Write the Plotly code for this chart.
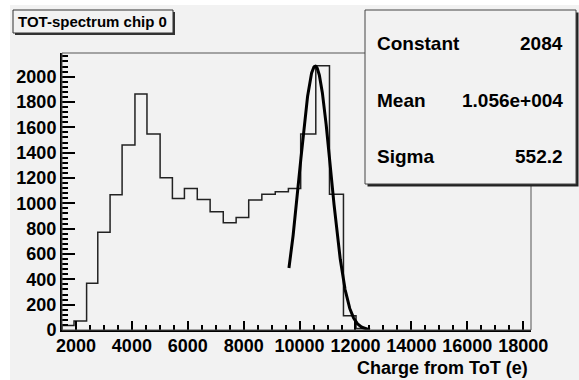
import numpy as np
import plotly.graph_objects as go

# TOT spectrum of chip 0: bin edges in charge units (e) and counts per bin
bin_edges = [1500, 1930, 2380, 2780, 3220, 3650, 4110, 4540, 5010, 5450, 5880,
             6340, 6800, 7270, 7730, 8180, 8650, 9130, 9600, 10040, 10580,
             11070, 11570, 12020, 12480]
counts = [35, 71, 369, 771, 1068, 1460, 1863, 1547, 1202, 1039, 1118, 1031,
          934, 847, 889, 1026, 1071, 1092, 1118, 1547, 2086, 1071, 113, 12]

# Gaussian fit parameters
fit_names = ["Constant", "Mean", "Sigma"]
fit_labels = ["2084", "1.056e+004", "552.2"]
fit_constant = 2084.0
fit_mean = 1.056e4
fit_sigma = 552.2
fit_range = [9620, 12520]

title_text = "TOT-spectrum chip 0"
x_title = "Charge from ToT (e)"

W, H = 579, 380
L, R, T, B = 62, 48, 53, 50
PW, PH = W - L - R, H - T - B
BG = "#f2f2f2"
FONT = "Liberation Sans, Arial, sans-serif"


def px(x):
    return (x - L) / PW


def py(y):
    return (H - B - y) / PH


# step outline of the histogram, closed down to zero at both ends
hx = [bin_edges[0]] + list(bin_edges) + [bin_edges[-1]]
hy = [0] + list(counts) + [counts[-1], 0]

fx = np.linspace(fit_range[0], fit_range[1], 400)
fy = fit_constant * np.exp(-0.5 * ((fx - fit_mean) / fit_sigma) ** 2)

fig = go.Figure()
fig.add_trace(go.Scatter(x=hx, y=hy, mode="lines", line=dict(shape="hv", color="#222", width=1.5),
                         hoverinfo="skip", showlegend=False))
fig.add_trace(go.Scatter(x=fx, y=fy, mode="lines", line=dict(color="black", width=3),
                         hoverinfo="skip", showlegend=False))

shapes = []
# canvas background
shapes.append(dict(type="rect", xref="paper", yref="paper", layer="below",
                   x0=px(10), x1=px(W + 5), y0=py(H + 5), y1=py(5),
                   fillcolor=BG, line=dict(width=0)))
# frame top/right
shapes.append(dict(type="rect", xref="paper", yref="paper", x0=0, x1=1, y0=0, y1=1,
                   line=dict(color="#555", width=1)))
# title box with shadow
shapes.append(dict(type="rect", xref="paper", yref="paper",
                   x0=px(15), x1=px(175), y0=py(35), y1=py(12),
                   fillcolor="#333", line=dict(width=0)))
shapes.append(dict(type="rect", xref="paper", yref="paper",
                   x0=px(13), x1=px(173), y0=py(33), y1=py(10),
                   fillcolor=BG, line=dict(color="#333", width=1)))
# stats box with shadow
shapes.append(dict(type="rect", xref="paper", yref="paper",
                   x0=px(367.5), x1=px(578.5), y0=py(186.5), y1=py(12.5),
                   fillcolor="#222", line=dict(width=0)))
shapes.append(dict(type="rect", xref="paper", yref="paper",
                   x0=px(365), x1=px(576), y0=py(184), y1=py(10),
                   fillcolor=BG, line=dict(color="#444", width=1)))

ann = []
ann.append(dict(text=title_text, xref="paper", yref="paper", x=px(92), y=py(21.5),
                xanchor="center", yanchor="middle", showarrow=False,
                font=dict(family=FONT, size=15, color="black", weight="bold")))
for i, (name, val) in enumerate(zip(fit_names, fit_labels)):
    yy = 43.5 + i * 56.7
    ann.append(dict(text=name, xref="paper", yref="paper", x=px(375), y=py(yy),
                    xanchor="left", yanchor="middle", showarrow=False,
                    font=dict(family=FONT, size=19, color="black", weight="bold")))
    ann.append(dict(text=val, xref="paper", yref="paper", x=px(565), y=py(yy),
                    xanchor="right", yanchor="middle", showarrow=False,
                    font=dict(family=FONT, size=19, color="black", weight="bold")))
ann.append(dict(text=x_title, xref="paper", yref="paper", x=px(530), y=py(368),
                xanchor="right", yanchor="middle", showarrow=False,
                font=dict(family=FONT, size=18, color="black", weight="bold")))

tick_font = dict(family=FONT, size=18, color="black", weight="bold")
fig.update_layout(
    width=W, height=H,
    margin=dict(l=L, r=R, t=T, b=B),
    paper_bgcolor="white", plot_bgcolor=BG,
    shapes=shapes, annotations=ann,
    xaxis=dict(range=[1500, 18280], tickmode="linear", tick0=2000, dtick=2000, tickformat="d",
               ticks="inside", ticklen=9, tickwidth=1.5, tickcolor="black",
               minor=dict(dtick=500, tick0=0, ticks="inside", ticklen=5, tickwidth=1.5, tickcolor="black"),
               showgrid=False, zeroline=False, showline=True, linecolor="black", linewidth=2,
               tickfont=tick_font, ticklabelstandoff=-2),
    yaxis=dict(range=[0, 2187], tickmode="linear", tick0=0, dtick=200, tickformat="d",
               ticks="inside", ticklen=13, tickwidth=1.5, tickcolor="black",
               minor=dict(dtick=40, tick0=0, ticks="inside", ticklen=6, tickwidth=1.5, tickcolor="black"),
               showgrid=False, zeroline=False, showline=True, linecolor="black", linewidth=2,
               tickfont=tick_font),
)

fig.write_html("out.html")
